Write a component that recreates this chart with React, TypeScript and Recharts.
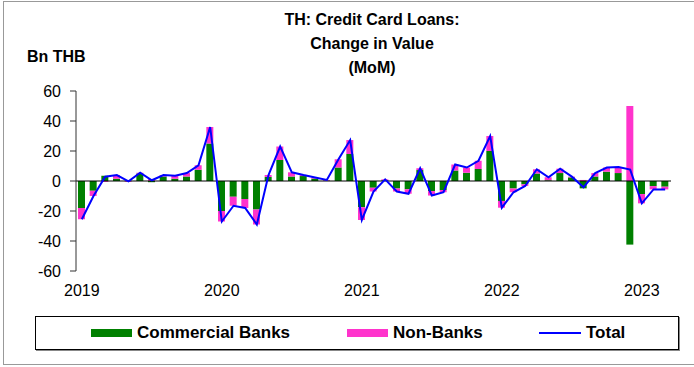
import React from "react";
import {
  ComposedChart,
  Bar,
  Line,
  XAxis,
  YAxis,
  ReferenceLine,
} from "recharts";

// monthly, Jan 2019 .. Mar 2023
const months = [
  "2019-01", "2019-02", "2019-03", "2019-04", "2019-05", "2019-06", "2019-07", "2019-08", "2019-09", "2019-10", "2019-11", "2019-12",
  "2020-01", "2020-02", "2020-03", "2020-04", "2020-05", "2020-06", "2020-07", "2020-08", "2020-09", "2020-10", "2020-11", "2020-12",
  "2021-01", "2021-02", "2021-03", "2021-04", "2021-05", "2021-06", "2021-07", "2021-08", "2021-09", "2021-10", "2021-11", "2021-12",
  "2022-01", "2022-02", "2022-03", "2022-04", "2022-05", "2022-06", "2022-07", "2022-08", "2022-09", "2022-10", "2022-11", "2022-12",
  "2023-01", "2023-02", "2023-03",
];

const commercialBanks = [
  -18, -6.5, 3.5, 1.5, 0.3, 5, -0.8, 3, 1.5, 3, 7.5, 25,
  -20, -10.5, -12, -19, 2.7, 14, 3, 3.3, 1.6, 0.3, 9, 18,
  -17.5, -4.5, 0.5, -5, -5.5, 7.3, -6.7, -6, 7, 5.5, 8, 20,
  -13.3, -5, -2.2, 5, 0.5, 5.3, 2.4, -4.9, 3, 6.2, 5.3, -42.4,
  -8.7, -3.4, -3.8,
];

const nonBanks = [
  -7.5, -3.5, -0.6, 2.5, -0.5, 0.5, 1.3, 1, 2, 2.3, 3, 11,
  -7, -6, -6, -10, 1.3, 9, 2.8, 0.7, 0.8, 0.4, 5.5, 9.3,
  -8.5, -2.5, 0.6, -2, -3, 1.2, -3, -1.5, 4, 3.5, 5.5, 10,
  -4.5, -2.5, -1.1, 2.8, 2, 2.9, 0.5, 0.7, 2.3, 2.8, 4, 50,
  -6.2, -2.2, -1.8,
];

const total = [
  -25.5, -10, 2.9, 4, -0.2, 5.5, 0.5, 4, 3.5, 5.3, 10.5, 36,
  -27, -16.5, -18, -29, 4, 23, 5.8, 4, 2.4, 0.7, 14.5, 27.3,
  -26, -7, 1.1, -7, -8.5, 8.5, -9.7, -7.5, 11, 9, 13.5, 30,
  -17.8, -7.5, -3.3, 7.8, 2.5, 8.2, 2.9, -4.2, 5.3, 9, 9.3, 7.6,
  -14.9, -5.6, -5.6,
];

const yTicks = [-60, -40, -20, 0, 20, 40, 60];
const yearTicks = ["2019-01", "2020-01", "2021-01", "2022-01", "2023-01"];

const titleLines = ["TH: Credit Card Loans:", "Change in Value", "(MoM)"];

const GREEN = "#008000";
const PINK = "#FF33CC";
const BLUE = "#0000FF";

const data = months.map((m, i) => ({
  month: m,
  cb: commercialBanks[i],
  nb: nonBanks[i],
  total: total[i],
}));

const font = "'Liberation Sans', Arial, sans-serif";

export default function App() {
  return (
    <div
      style={{
        position: "absolute",
        left: 0,
        top: 0,
        width: 694,
        height: 367,
        background: "#fff",
        fontFamily: font,
        overflow: "hidden",
      }}
    >
      <div
        style={{
          position: "absolute",
          left: 3,
          top: 1,
          width: 700,
          height: 362,
          border: "1px solid #999",
        }}
      />
      {titleLines.map((t, i) => (
        <div
          key={t}
          style={{
            position: "absolute",
            left: 222,
            width: 300,
            top: 11 + i * 24,
            textAlign: "center",
            fontWeight: "bold",
            fontSize: 16,
            lineHeight: "18px",
          }}
        >
          {t}
        </div>
      ))}
      <div
        style={{
          position: "absolute",
          left: 27,
          top: 48,
          fontWeight: "bold",
          fontSize: 16,
          lineHeight: "18px",
        }}
      >
        Bn THB
      </div>

      <ComposedChart
        width={694}
        height={367}
        data={data}
        stackOffset="sign"
        margin={{ top: 91, right: 23, bottom: 66, left: 0 }}
        style={{ position: "absolute", left: 0, top: 0 }}
      >
        <XAxis
          dataKey="month"
          ticks={yearTicks}
          interval={0}
          tickFormatter={(v: string) => v.slice(0, 4)}
          axisLine={false}
          tickLine={false}
          tickMargin={8}
          height={30}
          tick={{ fontSize: 16, fill: "#000", fontFamily: font }}
        />
        <YAxis
          domain={[-60, 60]}
          ticks={yTicks}
          width={76}
          tickSize={6}
          tickMargin={9}
          axisLine={{ stroke: "#333" }}
          tickLine={{ stroke: "#333" }}
          tick={{ fontSize: 16, fill: "#000", fontFamily: font }}
        />
        <Bar dataKey="cb" stackId="s" fill={GREEN} barSize={7} isAnimationActive={false} />
        <Bar dataKey="nb" stackId="s" fill={PINK} barSize={7} isAnimationActive={false} />
        <ReferenceLine y={0} stroke="#000" strokeWidth={1} />
        <Line
          type="linear"
          dataKey="total"
          stroke={BLUE}
          strokeWidth={2}
          dot={false}
          isAnimationActive={false}
        />
      </ComposedChart>

      <div
        style={{
          position: "absolute",
          left: 35,
          top: 316,
          width: 642,
          height: 32,
          border: "1px solid #000",
          boxShadow: "1px 1px 0 #888",
          fontWeight: "bold",
          fontSize: 17,
        }}
      >
        <div style={{ position: "absolute", left: 55, top: 12, width: 41, height: 8, background: GREEN }} />
        <div style={{ position: "absolute", left: 101, top: 6, lineHeight: "20px" }}>Commercial Banks</div>
        <div style={{ position: "absolute", left: 311, top: 12, width: 41, height: 8, background: PINK }} />
        <div style={{ position: "absolute", left: 357, top: 6, lineHeight: "20px" }}>Non-Banks</div>
        <div style={{ position: "absolute", left: 503, top: 15, width: 42, height: 2, background: BLUE }} />
        <div style={{ position: "absolute", left: 550, top: 6, lineHeight: "20px" }}>Total</div>
      </div>
    </div>
  );
}
